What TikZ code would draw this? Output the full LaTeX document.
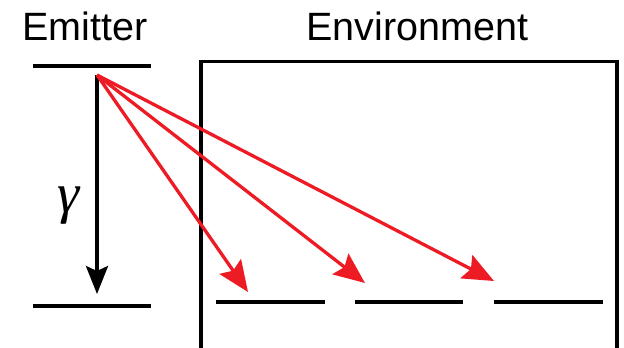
\documentclass[tikz,border=0pt]{standalone}
\usepackage{fontspec}
\setmainfont{Liberation Sans}
\newfontfamily\symbolserif{Liberation Serif}
\usetikzlibrary{arrows.meta}
\definecolor{arrowred}{RGB}{237,28,36}
\begin{document}
\begin{tikzpicture}[x=1pt,y=-1pt,
  level/.style={line width=3.5pt},
  frame/.style={line width=3.5pt},
  decay/.style={line width=3.3pt,-{Stealth[length=28pt,width=22pt,inset=5pt]}},
  emission/.style={arrowred,line width=3.3pt,-{Stealth[length=31pt,width=26pt,inset=5pt]}},
  title/.style={font=\fontsize{39.5}{42}\selectfont,inner sep=0pt,anchor=base}]
\useasboundingbox (0,0) rectangle (624,348);
% labels
\node[title] (emitter) at (85,40) {Emitter};
\node[title] (environment) at (417.5,40) {Environment};
% emitter levels
\coordinate (eTopL) at (33,66);
\coordinate (eTopR) at (151,66);
\coordinate (eBotL) at (33,306);
\coordinate (eBotR) at (151,306);
\draw[level] (eTopL) -- (eTopR);
\draw[level] (eBotL) -- (eBotR);
% decay arrow
\coordinate (src) at (97,75);
\coordinate (gnd) at (97,294);
\draw[decay] (src) -- (gnd);
\node[font=\symbolserif\itshape\fontsize{56}{60}\selectfont,inner sep=0pt] (gamma) at (69,206) {γ};
% environment box, open at the bottom
\coordinate (boxBL) at (201,350);
\coordinate (boxTL) at (201,61.5);
\coordinate (boxTR) at (617,61.5);
\coordinate (boxBR) at (617,350);
\draw[frame] (boxBL) -- (boxTL) -- (boxTR) -- (boxBR);
% environment levels
\coordinate (l1a) at (216,302); \coordinate (l1b) at (325,302);
\coordinate (l2a) at (355,302); \coordinate (l2b) at (463,302);
\coordinate (l3a) at (494,302); \coordinate (l3b) at (603,302);
\draw[level] (l1a) -- (l1b);
\draw[level] (l2a) -- (l2b);
\draw[level] (l3a) -- (l3b);
% emission arrows
\coordinate (t1) at (248,292);
\coordinate (t2) at (365,283);
\coordinate (t3) at (494,281);
\draw[emission] (src) -- (t1);
\draw[emission] (src) -- (t2);
\draw[emission] (src) -- (t3);
\end{tikzpicture}
\end{document}
